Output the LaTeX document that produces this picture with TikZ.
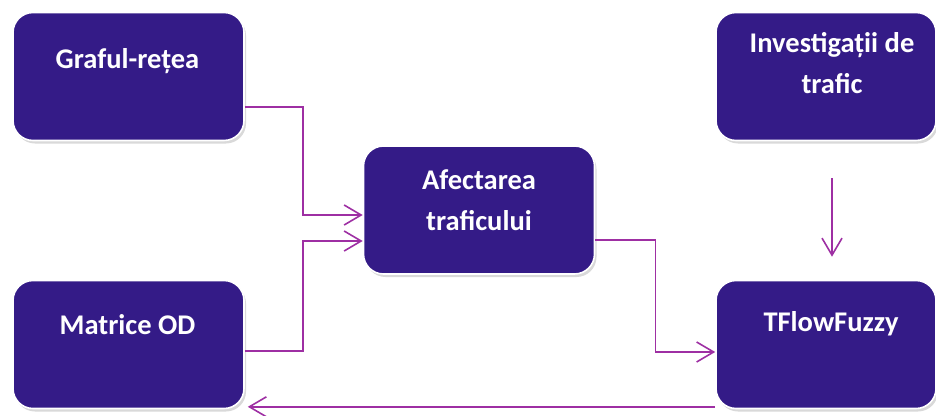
\documentclass[tikz,border=0pt]{standalone}
\usepackage{fontspec}
\setmainfont{Carlito}
\usetikzlibrary{arrows.meta, positioning, calc, shadows}
\definecolor{flowpurple}{HTML}{341B87}
\definecolor{flowlink}{HTML}{9E2FA3}

\tikzset{
  stage/.style={draw=white, line width=1.6pt, fill=flowpurple, rounded corners=20pt,
    minimum width=231pt, minimum height=128pt, inner sep=0pt,
    drop shadow={shadow xshift=2pt, shadow yshift=-3pt, opacity=0.3}},
  stagetext/.style={font=\bfseries\fontsize{28.5}{41}\selectfont, text=white,
    align=center, inner sep=0pt, anchor=base},
  link/.style={flowlink, line width=1.6pt,
    -{Straight Barb[length=17pt, width=20pt]}}
}

\begin{document}
\begin{tikzpicture}[x=1pt, y=-1pt]
  \useasboundingbox (0,0) rectangle (936,415);

  % boxes
  \node[stage] (graf) at (128.5,76.5) {};
  \node[stage] (matrice) at (128.5,344.5) {};
  \node[stage] (afect) at (479,210) {};
  \node[stage, minimum width=220pt] (invest) at (826,76.5) {};
  \node[stage, minimum width=220pt] (tflow) at (826,344.5) {};

  % labels (base = last line)
  \node[stagetext] (grafname) at ($(graf.north)+(-1,57)$) {Graful-rețea};
  \node[stagetext] (matricename) at ($(matrice.north)+(-1,55)$) {Matrice OD};
  \node[stagetext] (afectname) at ($(afect.north)+(0,85)$) {Afectarea\\traficului};
  \node[stagetext] (investname) at ($(invest.north)+(6,82)$) {Investigații de\\trafic};
  \node[stagetext] (tflowname) at ($(tflow.north)+(5,52)$) {TFlowFuzzy};

  % connectors
  \draw[link] ($(graf.east)+(0,30.5)$) -- ++(58,0) |- ($(afect.west)+(0,5)$);
  \draw[link] ($(matrice.east)+(0,6.5)$) -- ++(58,0) |- ($(afect.west)+(0,31)$);
  \draw[link] ($(afect.east)+(0,30)$) -- ++(60,0) |- ($(tflow.west)+(0,7.5)$);
  \draw[link] ($(invest.south)+(6,37)$) -- ($(tflow.north)+(6,-23)$);
  \draw[link] ($(tflow.south west)+(0,-2.5)$) -- ($(matrice.south east)+(3,-2.5)$);
\end{tikzpicture}
\end{document}
